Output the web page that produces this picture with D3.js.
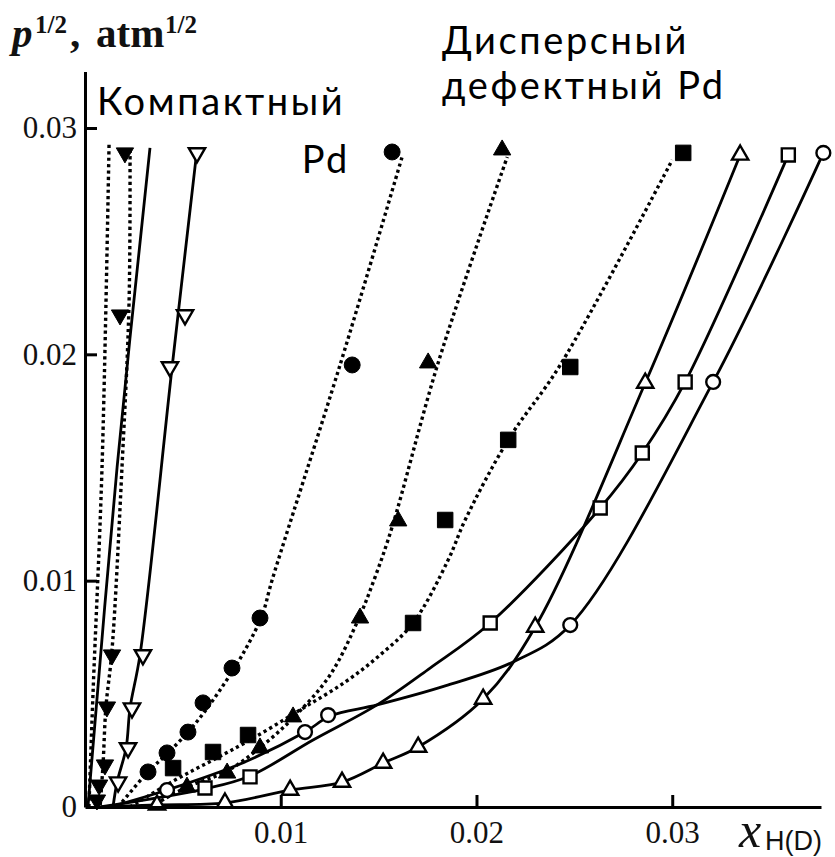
<!DOCTYPE html>
<html>
<head>
<meta charset="utf-8">
<script src="https://cdn.jsdelivr.net/npm/d3@7"></script>
<style>
  html, body { margin: 0; padding: 0; background: #fff; }
  svg { display: block; }
</style>
</head>
<body>
<svg id="chart" width="835" height="857"></svg>
<script>
// Hydrogen (deuterium) solubility isotherms: p^1/2 vs x_H(D)
// Compact Pd series (near the y axis) and dispersed defective Pd series.

const xTicks = [0.01, 0.02, 0.03];
const yTicks = [0, 0.01, 0.02, 0.03];

// ---- compact Pd ----
// dotted line without symbols
const compactDotFit = [[0.0002, 0], [0.00041, 0.00504], [0.00087, 0.01502], [0.00123, 0.02934]];
// solid line without symbols
const compactSolidFit = [[0.00015, 0], [0.00164, 0.01502], [0.00332, 0.02912]];
// filled down-triangles, dotted
const downFilled = [[0.00204, 0.0289], [0.00179, 0.02174], [0.00138, 0.00672], [0.00112, 0.00442],
                    [0.00102, 0.00186], [0.00072, 0.00097], [0.00061, 0.00031]];
const downFilledFit = [[0.0023, 0.02903], [0.00225, 0.02227], [0.00189, 0.01502], [0.00138, 0.00694],
                       [0.00107, 0.00442], [0.00092, 0.00186], [0.00077, 0]];
// open down-triangles, solid
const downOpen = [[0.00572, 0.0289], [0.00511, 0.02174], [0.00434, 0.01944], [0.00296, 0.00672],
                  [0.0024, 0.00437], [0.0022, 0.00261], [0.00169, 0.0011]];
const downOpenFit = [[0.00572, 0.02903], [0.00445, 0.01944], [0.00281, 0.00672], [0.0023, 0.00437],
                     [0.0021, 0.00261], [0.00164, 0.0011], [0.00143, 0]];

// ---- dispersed defective Pd ----
const circFilled = [[0.00322, 0.00155], [0.00419, 0.00239], [0.00526, 0.00331], [0.00603, 0.0046],
                    [0.00751, 0.00614], [0.00894, 0.00835], [0.01365, 0.01953], [0.01569, 0.02894]];
const circFilledFit = [[0.00169, 0], [0.00322, 0.00155], [0.00434, 0.00247], [0.00562, 0.00367],
                       [0.0069, 0.00517], [0.00818, 0.00694], [0.00905, 0.00848], [0.00956, 0.01003],
                       [0.01303, 0.01953], [0.0162, 0.02872]];

const triFilled = [[0.00521, 0.00088], [0.00726, 0.0015], [0.00894, 0.00261], [0.01063, 0.00398],
                   [0.01405, 0.00835], [0.016, 0.01264], [0.01753, 0.01962], [0.02131, 0.02903]];
const triFilledFit = [[0.00332, 0], [0.00521, 0.00088], [0.00726, 0.00159], [0.00905, 0.0027],
                      [0.01073, 0.00402], [0.01252, 0.00583], [0.01395, 0.00826], [0.01482, 0.01016],
                      [0.01569, 0.01237], [0.01804, 0.01962], [0.02157, 0.02872]];

const sqFilled = [[0.0045, 0.00172], [0.00654, 0.00243], [0.00833, 0.00318], [0.01676, 0.00813],
                  [0.0184, 0.01268], [0.02162, 0.01622], [0.02479, 0.01944], [0.03056, 0.0289]];
const sqFilledFit = [[0.0023, 0], [0.0046, 0.00119], [0.00654, 0.00208], [0.00843, 0.00296],
                     [0.01099, 0.00429], [0.01329, 0.00552], [0.01508, 0.00672], [0.01676, 0.00813],
                     [0.01855, 0.01091], [0.01942, 0.01268], [0.02162, 0.01622], [0.02428, 0.01953],
                     [0.03, 0.02859]];

const triOpen = [[0.00368, 0.00009], [0.00715, 0.00018], [0.01048, 0.00075], [0.01313, 0.0011],
                 [0.01523, 0.00194], [0.01702, 0.00265], [0.02034, 0.00477], [0.023, 0.00795],
                 [0.02862, 0.01873], [0.03347, 0.02881]];
const triOpenFit = [[0.0008, 0], [0.00368, 0.00009], [0.00715, 0.00018], [0.01048, 0.00075],
                    [0.01313, 0.0011], [0.01523, 0.00194], [0.01702, 0.00265], [0.02034, 0.00477],
                    [0.023, 0.00795], [0.02862, 0.01873], [0.03347, 0.02881]];

const sqOpen = [[0.00613, 0.00084], [0.00843, 0.00133], [0.0207, 0.00813], [0.02632, 0.01321],
                [0.02847, 0.01564], [0.03066, 0.01878], [0.03593, 0.02881]];
const sqOpenFit = [[0.00077, 0], [0.00613, 0.0008], [0.00843, 0.00137], [0.01165, 0.00296],
                   [0.01492, 0.00451], [0.01763, 0.00614], [0.0207, 0.00813], [0.02632, 0.01321],
                   [0.02847, 0.01564], [0.03066, 0.01878], [0.03593, 0.02881]];

const circOpen = [[0.00419, 0.00075], [0.01124, 0.00331], [0.01242, 0.00406], [0.02479, 0.00804],
                  [0.03209, 0.01878], [0.03772, 0.0289]];
const circOpenFit = [[0.00128, 0], [0.00419, 0.00075], [0.00792, 0.0019], [0.01124, 0.00331],
                     [0.01252, 0.00402], [0.01492, 0.00451], [0.0184, 0.00535], [0.02187, 0.00641],
                     [0.02479, 0.00804], [0.03209, 0.01878], [0.03772, 0.0289]];

const svg = d3.select("#chart");

const x = d3.scaleLinear().domain([0, 0.0376]).range([85, 821]);
const y = d3.scaleLinear().domain([0, 0.0325]).range([807, 71.4]);

const line = d3.line()
  .x(d => x(d[0])).y(d => y(d[1]))
  .curve(d3.curveCatmullRom.alpha(0.5));

const dotted = { "stroke-width": 3.4, "stroke-dasharray": "3.2 3.2" };
const solid = { "stroke-width": 2.8 };

function drawLine(data, style) {
  const p = svg.append("path")
    .attr("d", line(data))
    .attr("fill", "none")
    .attr("stroke", "#000")
    .attr("stroke-linejoin", "round");
  Object.entries(style).forEach(([k, v]) => p.attr(k, v));
}

drawLine(compactDotFit, dotted);
drawLine(compactSolidFit, solid);
drawLine(downFilledFit, dotted);
drawLine(downOpenFit, solid);
drawLine(circFilledFit, dotted);
drawLine(triFilledFit, dotted);
drawLine(sqFilledFit, dotted);
drawLine(triOpenFit, solid);
drawLine(sqOpenFit, solid);
drawLine(circOpenFit, solid);

// markers
function drawMarks(data, type, size, filled, rotate) {
  const sym = d3.symbol().type(type).size(size);
  svg.append("g").selectAll("path")
    .data(data)
    .join("path")
    .attr("d", sym)
    .attr("transform", d => `translate(${x(d[0])},${y(d[1])})${rotate ? " rotate(180)" : ""}`)
    .attr("fill", filled ? "#000" : "#fff")
    .attr("stroke", "#000")
    .attr("stroke-width", filled ? 1 : 2.4);
}

drawMarks(downFilled, d3.symbolTriangle, 130, true, true);
drawMarks(downOpen, d3.symbolTriangle, 115, false, true);
drawMarks(circFilled, d3.symbolCircle, 200, true, false);
drawMarks(triFilled, d3.symbolTriangle, 130, true, false);
drawMarks(sqFilled, d3.symbolSquare, 240, true, false);
drawMarks(triOpen, d3.symbolTriangle, 115, false, false);
drawMarks(sqOpen, d3.symbolSquare, 170, false, false);
drawMarks(circOpen, d3.symbolCircle, 150, false, false);

// axes
const serif = "'Liberation Serif', 'Times New Roman', serif";

const yAxis = d3.axisLeft(y)
  .tickValues(yTicks)
  .tickSize(-12)
  .tickSizeOuter(0)
  .tickPadding(8)
  .tickFormat(d => d === 0 ? "0" : d3.format(".2f")(d));

const xAxis = d3.axisBottom(x)
  .tickValues(xTicks)
  .tickSize(-12)
  .tickSizeOuter(0)
  .tickPadding(14)
  .tickFormat(d3.format(".2f"));

const gy = svg.append("g").attr("transform", `translate(${x(0)},0)`).call(yAxis);
const gx = svg.append("g").attr("transform", `translate(0,${y(0)})`).call(xAxis);

[gx, gy].forEach(g => {
  g.attr("font-family", null).attr("font-size", null);
  g.select(".domain").attr("stroke", "#000").attr("stroke-width", 3);
  g.selectAll(".tick line").attr("stroke", "#000").attr("stroke-width", 3);
  g.selectAll(".tick text")
    .attr("fill", "#111")
    .style("font-family", serif)
    .style("font-size", "31px");
});
gy.selectAll(".tick").filter(d => d === 0).select("line").remove();

// y axis title: p^1/2, atm^1/2
const title = svg.append("text")
  .attr("y", 47)
  .style("font-family", serif)
  .style("font-weight", "bold")
  .style("font-size", "41px")
  .attr("fill", "#111");
title.append("tspan").attr("x", 12).style("font-style", "italic").text("p");
title.append("tspan").attr("x", 35).attr("y", 33).style("font-size", "25px").text("1/2");
title.append("tspan").attr("x", 70).attr("y", 47).text(",");
title.append("tspan").attr("x", 96).attr("y", 47).text("atm");
title.append("tspan").attr("x", 165).attr("y", 33).style("font-size", "25px").text("1/2");

// x axis title: x_H(D)
svg.append("text")
  .attr("x", 739).attr("y", 847)
  .style("font-family", serif)
  .style("font-style", "italic")
  .style("font-size", "50px")
  .attr("fill", "#111")
  .text("x");
svg.append("text")
  .attr("x", 765).attr("y", 850)
  .style("font-family", "'Liberation Sans', Arial, sans-serif")
  .style("font-size", "27px")
  .attr("fill", "#111")
  .text("H(D)");

// group annotations
const sans = "Lato, 'Open Sans', sans-serif";
const notes = [
  { lines: ["Компактный"], x: 97, y: 115, anchor: "start" },
  { lines: ["Pd"], x: 350, y: 173, anchor: "end" },
  { lines: ["Дисперсный", "дефектный Pd"], x: 442, y: 54, anchor: "start" }
];
svg.append("g").selectAll("text")
  .data(notes)
  .join("text")
  .attr("x", d => d.x).attr("y", d => d.y)
  .attr("text-anchor", d => d.anchor)
  .style("font-family", sans)
  .style("font-size", "38px")
  .style("letter-spacing", "2.6px")
  .attr("fill", "#000")
  .selectAll("tspan")
  .data(d => d.lines.map((t, i) => ({ t, i, x: d.x })))
  .join("tspan")
  .attr("x", d => d.x)
  .attr("dy", d => d.i === 0 ? 0 : 45)
  .text(d => d.t);
</script>
</body>
</html>
